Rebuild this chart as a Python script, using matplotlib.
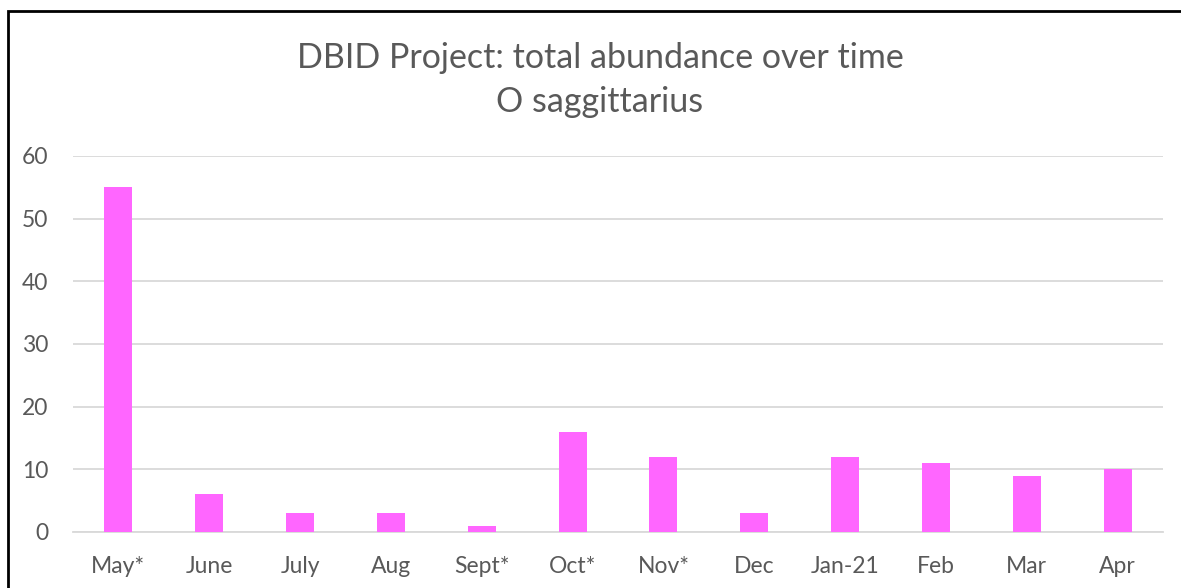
import matplotlib.pyplot as plt
from matplotlib.patches import Rectangle

plt.rcParams['font.family'] = ['Lato', 'DejaVu Sans']

months = ['May*', 'June', 'July', 'Aug', 'Sept*', 'Oct*', 'Nov*', 'Dec',
          'Jan-21', 'Feb', 'Mar', 'Apr']
abundance = [55, 6, 3, 3, 1, 16, 12, 3, 12, 11, 9, 10]

text_col = '#595959'
grid_col = '#D9D9D9'

fig = plt.figure(figsize=(11.81, 5.88), dpi=100)
ax = fig.add_axes([73 / 1181, 1 - 532 / 588, (1163 - 73) / 1181, 376 / 588])

x = range(len(months))
ax.bar(x, abundance, width=0.31, color='#FF66FF', zorder=3)
ax.set_xlim(-0.5, len(months) - 0.5)
ax.set_ylim(0, 60)
ax.set_yticks(range(0, 61, 10))
ax.set_xticks(list(x))
ax.set_xticklabels(months)
ax.yaxis.grid(True, color=grid_col, linewidth=1.3, zorder=0)
for s in ['top', 'right', 'left']:
    ax.spines[s].set_visible(False)
ax.spines['bottom'].set_color(grid_col)
ax.spines['bottom'].set_linewidth(1.3)
ax.tick_params(axis='both', length=0, labelsize=16.5, colors=text_col)
ax.tick_params(axis='y', pad=18)
ax.tick_params(axis='x', pad=17)

title_x = 600 / 1181
fig.text(title_x, 1 - 58 / 588, 'DBID Project: total abundance over time',
         ha='center', va='center', fontsize=24.5, color=text_col)
fig.text(title_x, 1 - 102 / 588, 'O saggittarius',
         ha='center', va='center', fontsize=24.5, color=text_col)

# chart frame
fig.patches.append(Rectangle((8 / 1181, -0.05), 1.2, 1 - 11 / 588 + 0.05,
                             transform=fig.transFigure, fill=False,
                             edgecolor='black', linewidth=2))

fig.savefig('out.png', dpi=100)
